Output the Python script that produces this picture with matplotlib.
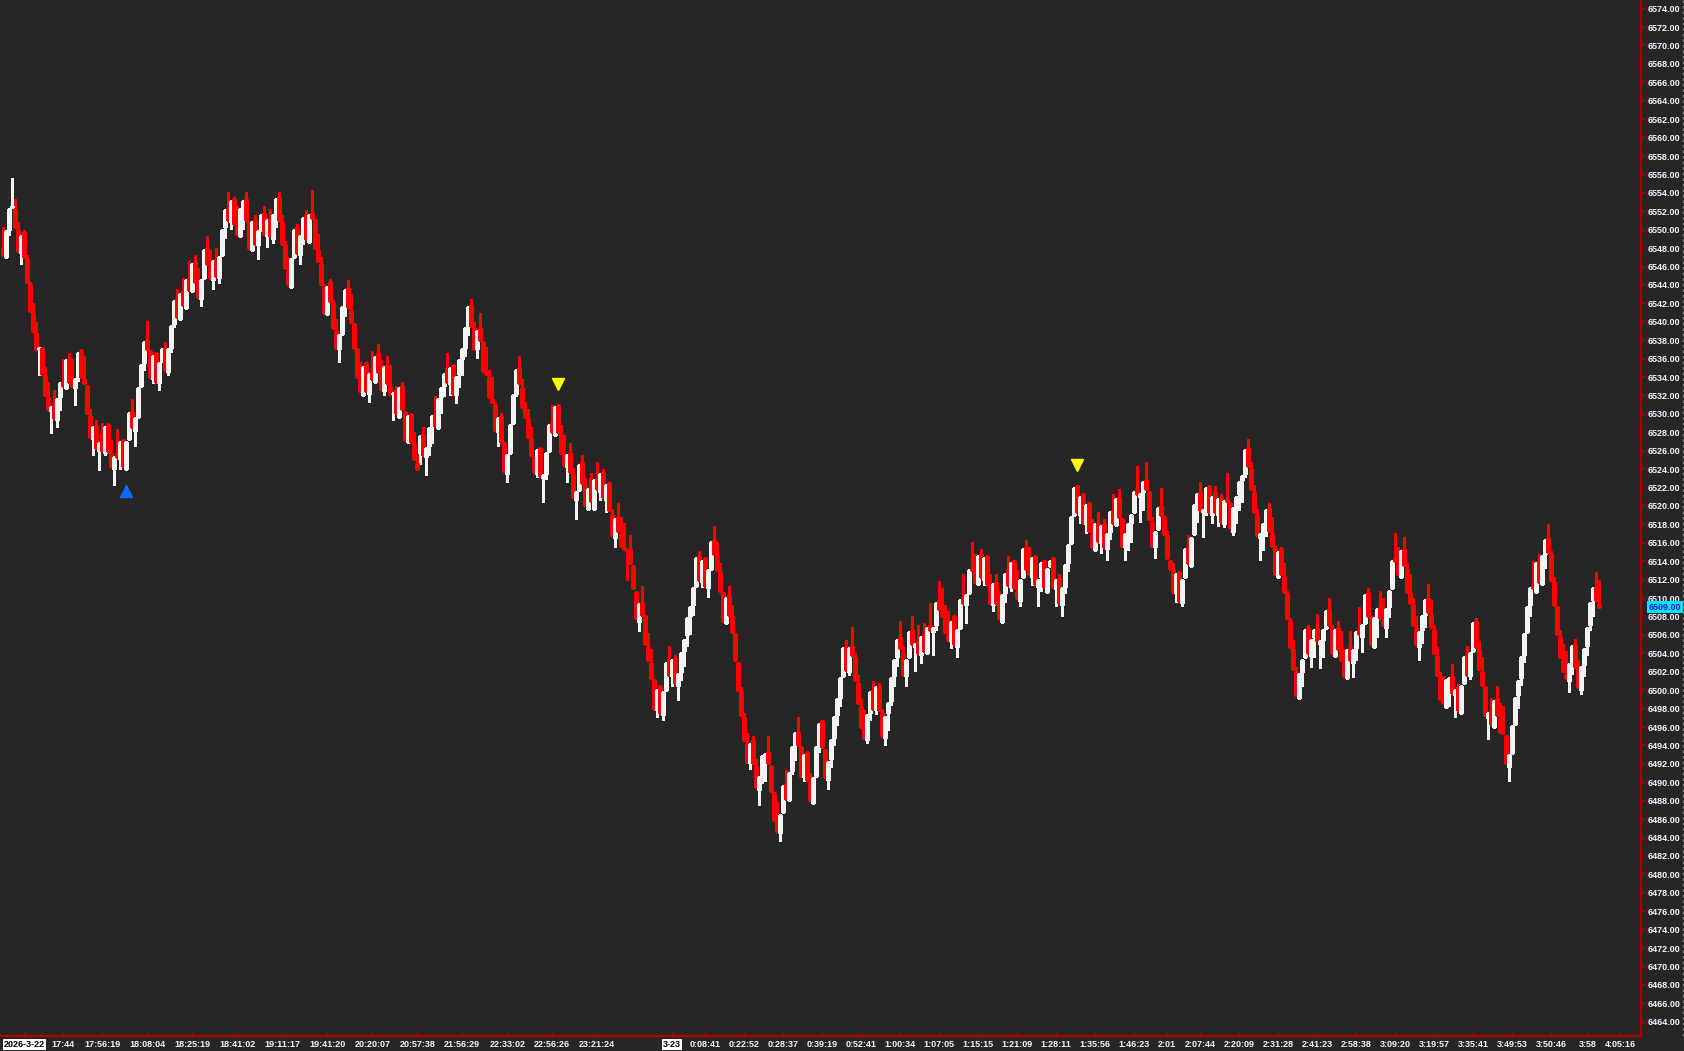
import matplotlib
matplotlib.use("Agg")
import matplotlib.pyplot as plt
from matplotlib.lines import Line2D
from matplotlib.transforms import blended_transform_factory

# candle data, one value per bar (bar index 0..532)
opens = [
    6548.0, 6547.0, 6550.0, 6552.5, 6552.3, 6550.0, 6547.5, 6549.8, 6546.8, 6544.1,
    6541.0, 6538.8, 6537.0, 6537.2, 6534.1, 6531.8, 6530.3, 6531.0, 6529.3, 6531.8,
    6533.5, 6532.8, 6536.0, 6533.3, 6532.8, 6534.0, 6536.8, 6533.8, 6533.0, 6529.8,
    6527.3, 6528.7, 6526.0, 6527.8, 6525.8, 6528.8, 6525.8, 6524.0, 6525.8, 6525.1,
    6527.2, 6524.0, 6527.3, 6530.3, 6528.1, 6529.7, 6533.0, 6535.5, 6538.0, 6536.8,
    6533.8, 6536.6, 6533.3, 6535.7, 6537.2, 6534.5, 6537.2, 6539.8, 6542.6, 6540.3,
    6543.3, 6541.5, 6544.8, 6543.3, 6546.5, 6544.1, 6542.5, 6544.8, 6548.0, 6546.0,
    6544.5, 6546.8, 6544.8, 6547.3, 6550.3, 6552.3, 6550.8, 6553.3, 6550.3, 6549.3,
    6552.5, 6553.3, 6550.8, 6547.8, 6551.1, 6548.3, 6550.0, 6551.8, 6549.3, 6551.3,
    6549.0, 6551.8, 6553.5, 6550.8, 6548.3, 6545.5, 6543.8, 6547.0, 6550.3, 6547.3,
    6549.5, 6551.6, 6548.7, 6551.8, 6551.0, 6547.8, 6546.3, 6543.8, 6540.8, 6544.3,
    6542.0, 6539.0, 6537.0, 6538.7, 6541.7, 6543.7, 6541.3, 6539.8, 6537.0, 6533.8,
    6532.1, 6535.5, 6532.2, 6534.5, 6533.5, 6536.6, 6534.3, 6532.5, 6535.3, 6533.0,
    6532.2, 6532.6, 6529.7, 6533.0, 6530.2, 6527.0, 6530.0, 6526.8, 6524.7, 6525.8,
    6527.8, 6525.3, 6526.5, 6528.7, 6530.0, 6528.5, 6531.8, 6533.0, 6535.0, 6533.2,
    6535.3, 6532.0, 6534.3, 6536.0, 6537.2, 6539.5, 6541.8, 6539.3, 6537.0, 6539.3,
    6537.8, 6534.5, 6534.0, 6531.6, 6531.0, 6528.0, 6529.8, 6526.8, 6523.5, 6525.8,
    6529.0, 6532.2, 6535.0, 6532.8, 6530.5, 6529.5, 6527.3, 6525.3, 6523.5, 6526.3,
    6523.0, 6523.5, 6526.0, 6529.0, 6527.7, 6531.0, 6527.8, 6525.5, 6524.2, 6525.8,
    6523.5, 6520.7, 6521.7, 6524.8, 6522.3, 6519.7, 6523.0, 6519.7, 6523.0, 6521.5,
    6523.7, 6520.7, 6522.5, 6519.0, 6516.5, 6518.8, 6517.0, 6515.5, 6515.2, 6515.3,
    6513.5, 6510.7, 6507.4, 6509.5, 6508.0, 6504.7, 6503.0, 6501.1, 6497.9, 6500.5,
    6497.3, 6500.0, 6503.3, 6501.5, 6503.5, 6500.5, 6502.0, 6504.3, 6506.0, 6508.0,
    6509.3, 6511.3, 6514.6, 6511.8, 6514.3, 6511.1, 6513.2, 6516.3, 6514.6, 6512.8,
    6510.5, 6507.3, 6510.3, 6508.0, 6506.1, 6503.0, 6499.8, 6497.1, 6494.2, 6492.1,
    6494.6, 6491.8, 6489.2, 6490.7, 6493.0, 6493.3, 6491.8, 6488.8, 6485.7, 6484.5,
    6486.8, 6489.8, 6488.1, 6491.2, 6494.0, 6495.5, 6493.8, 6490.6, 6493.3, 6490.0,
    6487.8, 6490.7, 6494.0, 6496.6, 6493.5, 6490.3, 6492.5, 6494.8, 6497.3, 6499.2,
    6501.5, 6504.8, 6502.0, 6504.8, 6503.6, 6500.8, 6498.2, 6495.8, 6494.6, 6497.5,
    6500.0, 6497.8, 6500.5, 6497.5, 6494.8, 6497.5, 6498.8, 6501.5, 6503.6, 6505.8,
    6504.0, 6501.5, 6503.6, 6506.5, 6504.7, 6505.3, 6503.8, 6506.1, 6504.0, 6507.1,
    6506.3, 6507.1, 6509.8, 6508.5, 6507.8, 6506.1, 6505.3, 6508.0, 6504.7, 6506.8,
    6510.0, 6509.3, 6510.5, 6513.2, 6512.8, 6511.5, 6514.8, 6512.0, 6514.6, 6511.2,
    6509.3, 6511.8, 6509.3, 6507.4, 6510.6, 6513.0, 6511.2, 6514.0, 6510.7, 6509.7,
    6512.3, 6515.5, 6513.0, 6512.3, 6514.6, 6511.2, 6512.3, 6514.0, 6510.7, 6513.5,
    6514.3, 6511.0, 6512.2, 6509.3, 6511.2, 6513.8, 6516.0, 6519.0, 6522.2, 6519.0,
    6521.3, 6518.0, 6520.3, 6517.0, 6515.2, 6518.2, 6516.0, 6518.0, 6515.3, 6517.2,
    6519.6, 6517.9, 6521.0, 6518.6, 6515.5, 6517.2, 6518.2, 6519.3, 6521.8, 6521.0,
    6521.5, 6522.8, 6521.5, 6518.3, 6515.5, 6517.5, 6520.0, 6518.8, 6516.8, 6514.0,
    6513.0, 6510.5, 6512.8, 6509.5, 6512.3, 6515.5, 6513.5, 6517.0, 6520.3, 6521.5,
    6519.3, 6519.8, 6522.2, 6519.0, 6521.5, 6519.0, 6521.0, 6518.0, 6520.8, 6520.3,
    6517.2, 6520.0, 6521.3, 6522.8, 6523.5, 6526.3, 6524.0, 6521.5, 6519.0, 6516.5,
    6517.2, 6518.2, 6519.8, 6517.0, 6515.5, 6512.3, 6515.3, 6512.3, 6510.5, 6507.5,
    6504.5, 6502.0, 6499.2, 6502.0, 6503.6, 6506.8, 6503.7, 6505.8, 6506.8, 6505.0,
    6505.5, 6506.8, 6508.8, 6506.8, 6503.7, 6506.8, 6504.4, 6503.0, 6501.3, 6504.7,
    6503.0, 6504.6, 6506.5, 6505.8, 6507.3, 6510.5, 6507.8, 6504.7, 6508.0, 6509.0,
    6507.5, 6506.8, 6509.0, 6511.1, 6514.3, 6513.8, 6512.3, 6515.3, 6513.2, 6510.5,
    6509.3, 6506.8, 6504.7, 6506.5, 6508.2, 6510.0, 6508.2, 6506.5, 6503.7, 6501.5,
    6498.8, 6498.2, 6501.2, 6501.5, 6499.5, 6500.3, 6497.5, 6500.8, 6503.8, 6501.5,
    6504.3, 6507.5, 6504.5, 6502.0, 6500.3, 6497.0, 6497.8, 6496.0, 6499.2, 6497.0,
    6495.4, 6495.0, 6491.7, 6493.2, 6496.3, 6499.5, 6501.3, 6503.8, 6506.3, 6509.3,
    6511.3, 6510.7, 6514.0, 6511.5, 6514.8, 6516.5, 6514.8, 6511.8, 6509.0, 6505.8,
    6503.3, 6501.7, 6501.0, 6502.8, 6505.0, 6502.3, 6500.0, 6502.7, 6504.8, 6507.1,
    6509.8, 6511.2, 6509.4,
]

closes = [
    6547.3, 6549.9, 6552.3, 6552.6, 6550.3, 6547.7, 6549.3, 6547.0, 6544.3, 6541.2,
    6539.0, 6537.0, 6537.2, 6534.3, 6532.0, 6530.5, 6530.8, 6529.5, 6531.6, 6533.3,
    6533.0, 6535.8, 6533.5, 6533.0, 6533.8, 6536.6, 6534.0, 6533.3, 6530.1, 6527.5,
    6528.6, 6526.3, 6526.8, 6526.0, 6528.6, 6526.0, 6524.3, 6525.3, 6525.3, 6527.0,
    6524.3, 6527.0, 6530.1, 6528.6, 6529.5, 6532.8, 6535.3, 6537.8, 6537.0, 6534.0,
    6536.3, 6533.5, 6535.5, 6537.0, 6534.8, 6537.0, 6539.5, 6542.3, 6540.5, 6543.0,
    6541.8, 6544.5, 6543.5, 6546.3, 6544.3, 6542.7, 6544.5, 6547.8, 6546.3, 6544.8,
    6546.6, 6545.0, 6547.0, 6550.0, 6552.1, 6551.1, 6553.1, 6550.6, 6549.5, 6552.3,
    6553.1, 6551.1, 6548.0, 6550.8, 6548.5, 6549.9, 6551.6, 6549.5, 6551.1, 6549.3,
    6551.6, 6553.3, 6551.1, 6548.5, 6545.8, 6544.1, 6546.8, 6550.0, 6547.5, 6549.3,
    6551.3, 6549.0, 6551.6, 6551.3, 6548.0, 6546.6, 6544.1, 6541.0, 6543.8, 6542.3,
    6539.3, 6537.2, 6538.6, 6541.6, 6543.5, 6541.6, 6540.0, 6537.2, 6534.0, 6532.5,
    6535.1, 6532.5, 6534.3, 6533.8, 6536.2, 6534.5, 6532.7, 6535.1, 6533.3, 6532.2,
    6532.3, 6530.1, 6532.8, 6530.5, 6527.2, 6529.8, 6527.0, 6525.1, 6524.0, 6527.6,
    6525.5, 6526.3, 6528.5, 6529.8, 6528.7, 6531.6, 6532.8, 6534.3, 6533.5, 6535.0,
    6532.2, 6534.0, 6535.8, 6537.0, 6539.3, 6541.6, 6539.5, 6537.0, 6539.0, 6538.0,
    6534.7, 6534.3, 6531.8, 6531.3, 6528.3, 6529.5, 6527.0, 6523.8, 6525.5, 6528.8,
    6532.0, 6534.8, 6533.3, 6530.8, 6529.7, 6527.5, 6525.5, 6523.7, 6526.1, 6523.3,
    6523.4, 6525.8, 6528.8, 6528.0, 6530.8, 6528.0, 6525.8, 6524.5, 6525.5, 6523.7,
    6521.0, 6521.5, 6524.5, 6522.5, 6520.1, 6521.8, 6520.5, 6522.8, 6521.8, 6523.5,
    6521.0, 6522.3, 6519.6, 6516.9, 6518.6, 6517.3, 6515.7, 6515.3, 6515.1, 6513.8,
    6511.1, 6507.8, 6509.4, 6508.2, 6505.0, 6503.3, 6501.3, 6498.0, 6500.0, 6497.5,
    6499.8, 6503.0, 6501.7, 6503.3, 6500.8, 6501.8, 6504.0, 6505.5, 6507.8, 6509.0,
    6511.1, 6514.3, 6512.0, 6514.0, 6511.3, 6513.1, 6516.1, 6514.8, 6513.1, 6510.8,
    6507.5, 6510.0, 6508.2, 6506.3, 6503.3, 6500.0, 6497.3, 6494.6, 6492.2, 6494.2,
    6492.1, 6489.5, 6490.6, 6492.9, 6493.1, 6492.1, 6489.0, 6485.9, 6484.7, 6486.5,
    6489.6, 6488.2, 6491.0, 6493.8, 6495.4, 6494.1, 6490.7, 6493.0, 6490.3, 6488.1,
    6490.5, 6493.8, 6496.3, 6493.8, 6490.6, 6492.2, 6494.6, 6497.1, 6499.0, 6501.3,
    6504.6, 6502.2, 6504.6, 6503.8, 6501.1, 6498.6, 6496.0, 6494.8, 6497.3, 6499.8,
    6498.0, 6500.3, 6497.8, 6495.0, 6497.1, 6498.6, 6501.3, 6503.3, 6505.5, 6504.6,
    6501.7, 6503.3, 6506.3, 6505.0, 6505.0, 6504.0, 6505.8, 6504.3, 6506.8, 6506.5,
    6506.8, 6509.5, 6508.8, 6508.1, 6506.3, 6505.5, 6507.4, 6505.0, 6506.5, 6509.8,
    6509.5, 6510.3, 6513.0, 6513.0, 6511.8, 6514.6, 6512.3, 6514.3, 6511.5, 6509.5,
    6511.5, 6509.5, 6507.8, 6510.3, 6512.6, 6511.4, 6513.8, 6511.1, 6510.0, 6512.0,
    6515.3, 6513.2, 6512.6, 6514.3, 6511.5, 6512.0, 6513.8, 6511.2, 6513.2, 6514.0,
    6511.2, 6512.0, 6509.5, 6511.1, 6513.6, 6515.8, 6518.8, 6522.0, 6519.3, 6521.0,
    6518.2, 6520.1, 6517.3, 6515.5, 6518.0, 6516.2, 6517.8, 6515.5, 6517.0, 6519.3,
    6518.2, 6520.8, 6518.8, 6515.7, 6517.0, 6518.0, 6519.0, 6521.5, 6521.3, 6521.3,
    6522.6, 6521.8, 6518.6, 6515.7, 6517.2, 6519.8, 6519.0, 6517.0, 6514.3, 6513.2,
    6510.7, 6512.6, 6509.7, 6512.0, 6515.3, 6513.8, 6516.5, 6520.1, 6521.3, 6519.6,
    6519.6, 6522.0, 6519.3, 6521.0, 6519.3, 6520.8, 6518.3, 6520.5, 6520.5, 6517.6,
    6519.8, 6521.0, 6522.6, 6523.3, 6526.1, 6524.3, 6521.8, 6519.3, 6516.8, 6517.0,
    6518.0, 6519.6, 6517.3, 6515.7, 6512.6, 6515.0, 6512.6, 6510.7, 6507.8, 6504.7,
    6502.3, 6499.5, 6501.8, 6503.3, 6506.5, 6504.0, 6505.5, 6506.5, 6505.3, 6505.3,
    6506.5, 6508.6, 6507.1, 6504.0, 6506.5, 6504.5, 6503.3, 6501.5, 6504.4, 6503.3,
    6504.4, 6506.3, 6506.1, 6507.1, 6510.3, 6508.0, 6505.0, 6507.8, 6508.8, 6507.8,
    6507.1, 6508.8, 6510.8, 6514.0, 6514.0, 6512.6, 6515.1, 6513.6, 6510.7, 6509.5,
    6507.1, 6505.0, 6506.3, 6508.0, 6509.8, 6508.5, 6506.9, 6504.0, 6501.7, 6499.0,
    6498.6, 6501.1, 6501.3, 6499.7, 6500.0, 6497.8, 6500.5, 6503.6, 6501.6, 6504.0,
    6507.3, 6504.7, 6502.3, 6500.6, 6497.3, 6497.5, 6496.3, 6498.8, 6497.3, 6495.5,
    6495.3, 6492.1, 6493.0, 6496.1, 6499.2, 6501.0, 6503.6, 6506.1, 6509.0, 6511.1,
    6511.1, 6513.8, 6511.8, 6514.6, 6516.3, 6515.0, 6512.0, 6509.3, 6506.1, 6503.6,
    6502.1, 6501.3, 6502.8, 6504.8, 6502.5, 6500.3, 6502.5, 6504.5, 6506.8, 6509.5,
    6511.1, 6509.8, 6509.0,
]

# wick tops / bottoms that reach past the body (bar index -> price)
highs = {
    0: 6550.3, 3: 6555.6, 4: 6553.3, 5: 6550.8, 7: 6550.0, 8: 6547.3, 9: 6544.3, 10: 6542.0,
    11: 6540.0, 14: 6535.1, 15: 6533.5, 17: 6532.6, 20: 6536.0, 22: 6536.6, 23: 6536.0,
    26: 6537.0, 27: 6536.3, 29: 6530.5, 31: 6529.3, 33: 6529.0, 35: 6529.0, 36: 6527.2,
    38: 6528.4, 43: 6531.6, 48: 6540.1, 54: 6537.8, 58: 6543.6, 60: 6544.8, 62: 6546.6,
    64: 6547.3, 65: 6545.8, 68: 6549.3, 69: 6547.8, 71: 6548.0, 75: 6554.1, 77: 6553.5,
    78: 6552.6, 81: 6554.1, 84: 6551.6, 87: 6552.6, 89: 6552.3, 92: 6554.1, 93: 6551.6,
    94: 6548.8, 95: 6547.0, 98: 6550.6, 101: 6552.1, 103: 6554.3, 105: 6549.5, 106: 6547.0,
    107: 6544.1, 109: 6544.6, 110: 6542.4, 111: 6540.3, 115: 6544.5, 116: 6543.0, 119: 6535.6,
    123: 6536.8, 125: 6537.6, 126: 6535.9, 128: 6536.3, 129: 6535.3, 131: 6533.0, 133: 6533.5,
    137: 6528.0, 138: 6525.5, 140: 6528.6, 144: 6531.9, 148: 6536.6, 156: 6542.5, 157: 6540.0,
    159: 6541.0, 161: 6537.3, 162: 6534.8, 163: 6534.0, 164: 6531.3, 166: 6530.1, 172: 6536.3,
    173: 6533.8, 174: 6531.3, 175: 6530.5, 176: 6528.6, 183: 6531.0, 186: 6528.8, 187: 6527.7,
    189: 6526.8, 190: 6524.1, 193: 6525.5, 194: 6523.0, 196: 6523.6, 198: 6524.8, 200: 6524.0,
    203: 6519.7, 205: 6520.3, 206: 6518.8, 207: 6518.2, 209: 6516.8, 213: 6511.3, 215: 6506.2,
    216: 6504.5, 222: 6504.8, 224: 6503.8, 232: 6515.1, 237: 6517.8, 238: 6516.1, 239: 6513.8,
    242: 6511.3, 243: 6509.3, 246: 6500.3, 247: 6497.5, 248: 6495.3, 250: 6495.0, 251: 6492.5,
    255: 6495.0, 258: 6487.9, 261: 6491.3, 265: 6497.1, 269: 6491.0, 273: 6496.8, 281: 6505.4,
    283: 6506.9, 284: 6504.0, 285: 6501.6, 286: 6499.0, 287: 6497.9, 290: 6501.0, 292: 6500.8,
    293: 6498.0, 299: 6507.5, 300: 6504.8, 303: 6508.1, 305: 6507.1, 307: 6507.3, 309: 6509.5,
    312: 6511.9, 313: 6511.1, 314: 6509.3, 315: 6508.6, 320: 6512.6, 323: 6516.1, 324: 6514.8,
    326: 6515.3, 329: 6512.6, 331: 6512.6, 332: 6510.8, 335: 6514.6, 338: 6513.0, 341: 6516.3,
    342: 6515.5, 352: 6512.6, 363: 6518.6, 365: 6519.3, 367: 6518.6, 370: 6521.3, 372: 6521.8,
    378: 6524.3, 381: 6524.8, 383: 6518.8, 386: 6522.0, 388: 6517.3, 390: 6513.8, 395: 6516.8,
    399: 6522.6, 404: 6522.2, 406: 6521.3, 408: 6523.6, 415: 6527.3, 416: 6524.8, 417: 6522.3,
    418: 6519.7, 422: 6520.3, 423: 6518.8, 426: 6515.5, 427: 6513.8, 428: 6510.8, 429: 6507.8,
    430: 6505.4, 431: 6502.5, 435: 6507.1, 438: 6508.3, 442: 6510.0, 443: 6507.1, 445: 6507.5,
    446: 6506.4, 447: 6504.5, 449: 6506.4, 452: 6509.0, 455: 6511.1, 456: 6508.1, 459: 6510.8,
    460: 6510.0, 464: 6517.1, 465: 6515.6, 467: 6516.6, 468: 6513.8, 469: 6512.6, 470: 6510.0,
    471: 6508.1, 475: 6511.5, 476: 6509.8, 477: 6507.1, 478: 6504.7, 479: 6502.0, 480: 6501.5,
    483: 6502.8, 485: 6500.7, 488: 6504.8, 491: 6507.8, 492: 6505.3, 493: 6503.6, 496: 6499.2,
    498: 6500.4, 499: 6498.6, 500: 6498.3, 510: 6514.0, 512: 6514.8, 515: 6518.0, 516: 6515.1,
    517: 6512.3, 519: 6506.5, 520: 6505.0, 521: 6504.3, 524: 6505.6, 525: 6503.3, 531: 6512.8,
    532: 6512.0,
}
lows = {
    1: 6546.9, 2: 6549.4, 6: 6546.3, 12: 6534.2, 16: 6527.9, 18: 6528.6, 19: 6530.4, 24: 6531.0,
    25: 6533.6, 30: 6525.5, 32: 6523.9, 34: 6525.5, 37: 6522.3, 39: 6524.0, 44: 6526.5,
    47: 6534.8, 50: 6533.4, 52: 6532.6, 55: 6534.2, 56: 6536.7, 57: 6539.4, 66: 6541.7,
    70: 6543.6, 72: 6544.2, 74: 6549.1, 76: 6550.1, 80: 6550.1, 85: 6546.8, 88: 6548.1,
    90: 6548.6, 91: 6550.3, 99: 6546.3, 100: 6548.5, 112: 6535.6, 114: 6540.6, 122: 6531.3,
    127: 6532.0, 130: 6529.3, 139: 6524.6, 141: 6523.4, 142: 6525.5, 143: 6526.8, 146: 6530.1,
    147: 6531.9, 149: 6532.0, 151: 6531.2, 152: 6532.9, 153: 6534.2, 154: 6536.3, 155: 6538.6,
    158: 6536.1, 165: 6526.5, 168: 6522.6, 171: 6531.9, 178: 6523.1, 180: 6520.4, 181: 6522.9,
    188: 6522.6, 191: 6518.6, 199: 6520.6, 201: 6519.4, 204: 6515.6, 208: 6512.0, 212: 6506.4,
    218: 6497.1, 220: 6496.8, 223: 6500.4, 225: 6498.9, 226: 6501.1, 227: 6502.6, 228: 6504.8,
    229: 6506.1, 230: 6508.2, 233: 6511.2, 235: 6510.1, 241: 6507.2, 249: 6491.4, 252: 6487.5,
    253: 6489.9, 254: 6490.1, 259: 6483.6, 263: 6490.9, 264: 6492.4, 267: 6490.1, 270: 6487.6,
    272: 6493.3, 275: 6489.3, 276: 6491.7, 277: 6494.1, 278: 6496.2, 279: 6498.3, 282: 6501.6,
    288: 6494.3, 289: 6496.8, 291: 6497.4, 294: 6494.1, 295: 6495.7, 296: 6498.4, 297: 6500.4,
    298: 6502.6, 301: 6500.4, 304: 6502.1, 306: 6502.9, 310: 6503.8, 311: 6506.5, 316: 6504.6,
    318: 6503.6, 321: 6507.3, 327: 6511.4, 330: 6508.6, 334: 6509.6, 336: 6510.8, 339: 6509.1,
    343: 6511.4, 345: 6509.1, 346: 6510.8, 348: 6510.5, 351: 6509.1, 353: 6508.1, 354: 6510.6,
    355: 6512.9, 359: 6518.1, 361: 6517.1, 366: 6514.9, 368: 6514.1, 369: 6516.4, 374: 6514.1,
    375: 6515.2, 376: 6516.1, 379: 6518.3, 380: 6519.6, 384: 6514.4, 391: 6509.6, 393: 6509.1,
    398: 6518.3, 400: 6516.6, 401: 6519.0, 403: 6518.1, 405: 6517.8, 407: 6517.7, 410: 6516.8,
    411: 6518.1, 412: 6519.6, 413: 6520.4, 414: 6523.1, 419: 6514.1, 420: 6515.2, 421: 6516.7,
    433: 6500.4, 436: 6502.5, 437: 6503.6, 439: 6502.4, 440: 6503.6, 450: 6501.4, 451: 6503.3,
    453: 6504.1, 458: 6505.8, 461: 6505.8, 462: 6507.9, 472: 6503.3, 473: 6505.1, 474: 6506.9,
    482: 6498.3, 484: 6497.1, 489: 6501.2, 495: 6494.7, 502: 6490.1, 505: 6498.1, 506: 6500.6,
    507: 6503.1, 509: 6508.1, 514: 6513.3, 522: 6499.8, 523: 6501.8, 526: 6499.6, 527: 6501.5,
    528: 6503.8, 529: 6506.5, 530: 6508.1,
}

# time axis labels (bar index where each label sits)
tick_pos = [7, 20, 33, 48, 63, 78, 93, 108, 123, 138, 153, 168, 183, 198, 223, 234, 247,
            260, 273, 286, 299, 312, 325, 338, 351, 364, 377, 388, 399, 412, 425, 438,
            451, 464, 477, 490, 503, 516, 528, 539]
tick_labels = ["2026-3-22", "17:44", "17:56:19", "18:08:04", "18:25:19", "18:41:02",
               "19:11:17", "19:41:20", "20:20:07", "20:57:38", "21:56:29", "22:33:02",
               "22:56:26", "23:21:24", "3-23", "0:08:41", "0:22:52", "0:28:37", "0:39:19",
               "0:52:41", "1:00:34", "1:07:05", "1:15:15", "1:21:09", "1:28:11", "1:35:56",
               "1:46:23", "2:01", "2:07:44", "2:20:09", "2:31:28", "2:41:23", "2:58:38",
               "3:09:20", "3:19:57", "3:35:41", "3:49:53", "3:50:46", "3:58", "4:05:16"]
date_labels = ["2026-3-22", "3-23"]

# signal arrows
buy_x, buy_y = [41], [6521.6]
sell_x, sell_y = [185, 358], [6533.2, 6524.4]

last_price = 6509.0

BG = "#262626"
UP = "#f4f4f4"
UP_FILL = "#9a9a9a"
DOWN = "#ff0000"
AXIS_RED = "#b00000"

plt.rcParams['font.family'] = ['Liberation Sans', 'DejaVu Sans']

fig = plt.figure(figsize=(16.84, 10.51), dpi=100, facecolor=BG)
ax = fig.add_axes([0, 15 / 1051, 1641 / 1684, 1036 / 1051])
ax.set_facecolor(BG)

n = len(closes)
xs = list(range(n))
cols, faces, his, los, bottoms, heights = [], [], [], [], [], []
for i in xs:
    o, c = opens[i], closes[i]
    up = c >= o
    cols.append(UP if up else DOWN)
    faces.append(UP_FILL if up else BG)
    his.append(highs.get(i, max(o, c)))
    los.append(lows.get(i, min(o, c)))
    bottoms.append(min(o, c))
    heights.append(max(abs(c - o), 0.04))

# wicks first, hollow bodies on top
ax.vlines(xs, los, his, colors=cols, linewidth=0.8, antialiased=False, zorder=2)
ax.bar(xs, heights, bottom=bottoms, width=0.74, color=faces, edgecolor=cols,
       linewidth=0.75, antialiased=False, zorder=3)

# signal markers
ax.plot(buy_x, buy_y, linestyle='none', marker='^', markersize=9,
        color='#0a6cff', zorder=4)
ax.plot(sell_x, sell_y, linestyle='none', marker='v', markersize=9,
        color='#ffff00', zorder=4)

ax.set_xlim(-1.1, 545.9)
ax.set_ylim(6462.45, 6574.94)

# axes frame
for side in ['top', 'left']:
    ax.spines[side].set_visible(False)
for side in ['right', 'bottom']:
    ax.spines[side].set_color(AXIS_RED)
    ax.spines[side].set_linewidth(1.6)

ax.yaxis.tick_right()
ax.set_yticks([6464 + 2 * i for i in range(56)])
ax.set_yticklabels([f"{6464 + 2 * i:.2f}" for i in range(56)])
ax.tick_params(axis='y', direction='out', length=3, width=1.2, color=AXIS_RED,
               labelcolor='#f2f6ff', labelsize=6.5, pad=2)
for lab in ax.get_yticklabels():
    lab.set_fontweight('bold')

ax.set_xticks(tick_pos)
ax.set_xticklabels(tick_labels)
ax.tick_params(axis='x', direction='in', length=3, width=1, color=AXIS_RED,
               labelcolor='#f2f6ff', labelsize=6.5, pad=3)
for lab in ax.get_xticklabels():
    lab.set_fontweight('bold')
    if lab.get_text() in date_labels:
        lab.set_color('black')
        lab.set_bbox(dict(facecolor='white', edgecolor='none', pad=0.8))

# last price box on the price scale
trans = blended_transform_factory(fig.transFigure, ax.transData)
ax.text(1649 / 1684, last_price, f"{last_price:.2f}", transform=trans,
        ha='left', va='center', fontsize=6.5, fontweight='bold', color='#0020d0',
        bbox=dict(facecolor='#00e5ff', edgecolor='none', pad=1.2), zorder=6,
        clip_on=False)

# dashed edge at the far right
fig.add_artist(Line2D([1682.5 / 1684] * 2, [15 / 1051, 1], color='#7a7a7a',
                      linewidth=1, linestyle=(0, (2, 2))))

fig.savefig("out.png", dpi=100, facecolor=BG)
